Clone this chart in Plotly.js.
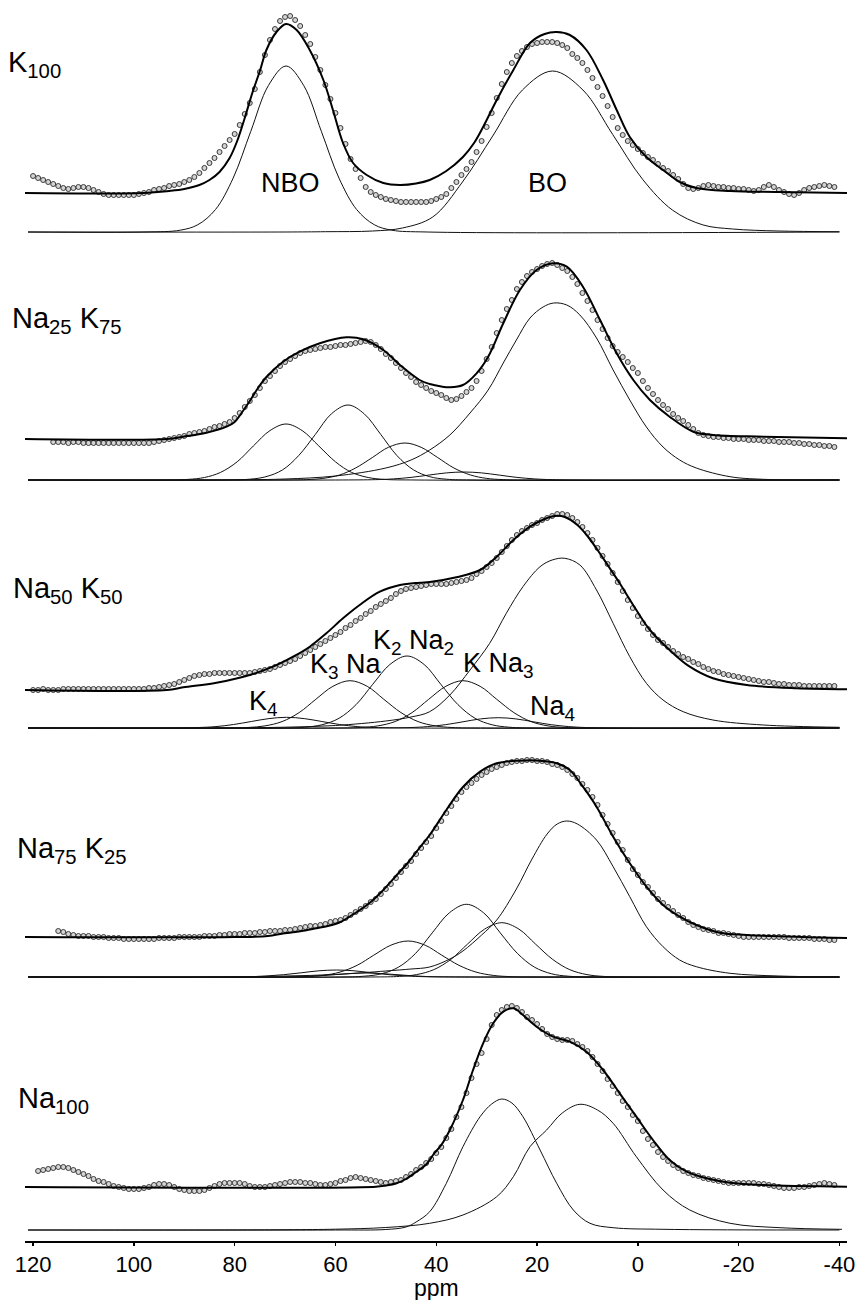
<!DOCTYPE html>
<html>
<head>
<meta charset="utf-8">
<script src="https://cdn.plot.ly/plotly-3.0.1.min.js"></script>
<style>html,body{margin:0;padding:0;background:#fff;}#chart{width:863px;height:1300px;}</style>
</head>
<body>
<div id="chart"></div>
<script>
// ---------------- DATA (intensities in arbitrary units above each trace's own baseline) ----------------
const panelNames = ["K<sub>100</sub>", "Na<sub>25</sub> K<sub>75</sub>", "Na<sub>50</sub> K<sub>50</sub>", "Na<sub>75</sub> K<sub>25</sub>", "Na<sub>100</sub>"];
const xTicks = [120, 100, 80, 60, 40, 20, 0, -20, -40];
const xTitle = "ppm";

// measured spectra (open circles), one value per ppm, starting at dataStart and stepping down by 1 ppm
const dataStart = [120, 116, 120, 115, 119];
const dataK100 = [17,15,13,11,9,7,5,4,5,6, 6,5,3,1,-1,-2,-2,-2,-2,-2, -2,-1,0,1,3,4,5,7,8,9, 11,13,16,20,25,30,35,41,47,53,
  59,68,79,90,104,121,138,153,164,172, 176,177,173,167,158,149,136,123,108,94, 80,65,49,34,24,15,6,1,-2,-4, -6,-7,-8,-9,-9,-9,-9,-9,-9,-8,
  -6,-4,-1,5,11,18,24,31,41,52, 66,80,95,109,121,130,137,142,146,149, 150,151,151,151,150,148,145,139,135,130, 123,115,106,97,87,76,65,58,52,48,
  44,40,36,33,29,25,22,18,14,9, 5,4,5,7,8,7,6,6,5,5, 4,4,3,2,3,6,8,6,3,1, -1,-2,0,3,5,6,7,8,7,6];
const dataNa25K75 = [-3,-3,-3,-4,-3,-3,-4,-4,-4,-4, -4,-4,-4,-4,-4,-4,-4,-4,-4,-4, -3,-2,-1,0,1,2,3,5,6,7, 8,10,12,13,15,17,21,26,32,38,
  44,51,58,63,68,73,77,80,83,86, 88,89,90,91,92,92,93,94,94,95, 96,97,98,97,94,90,85,81,76,71, 66,62,57,54,51,48,46,44,41,39,
  40,43,47,51,58,68,80,92,106,119, 130,139,150,157,163,167,170,173,175,176, 174,171,168,162,155,146,138,129,119,110, 101,93,87,82,77,71,66,58,51,45,
  39,34,30,25,21,18,14,10,6,4, 3,2,2,1,1,0,0,0,-1,-1, -1,-2,-2,-2,-3,-3,-3,-4,-4,-5, -5,-6,-6,-7,-7,-8];
const dataNa50K50 = [0,0,1,0,0,0,1,1,1,1, 1,1,1,1,1,1,1,1,1,1, 1,1,1,2,2,3,4,5,6,8, 10,12,14,15,16,16,17,17,17,17,
  17,17,17,17,18,19,20,21,23,25, 27,29,31,34,37,40,43,46,49,52, 55,58,62,65,69,72,76,79,83,86, 89,92,96,99,101,102,103,104,105,106,
  106,106,106,107,108,109,110,112,116,119, 123,127,132,138,144,150,155,159,162,165, 167,170,172,174,176,176,175,172,168,163, 157,150,142,134,126,117,108,99,90,82,
  74,67,61,55,50,47,43,39,36,33, 31,28,26,23,21,19,18,16,15,14, 13,12,11,10,9,8,8,7,6,6, 5,5,5,4,4,4,4,4,4,4];
const dataNa75K25 = [6,5,3,2,1,1,1,0,0,0, -1,-1,-1,-2,-2,-2,-2,-2,-2,-2, -1,-1,-1,-1,0,0,0,0,0,1, 1,1,2,2,3,3,3,4,4,4,
  5,5,6,6,6,7,7,8,9,10, 11,11,12,13,15,16,17,19,22,25, 28,31,35,38,43,48,53,59,65,71, 76,83,89,95,101,109,116,124,131,138,
  145,150,154,158,162,165,168,170,172,174, 175,176,176,177,177,176,176,175,173,172, 170,167,163,159,153,147,140,132,122,113, 104,95,87,77,68,62,55,50,44,38,
  34,30,26,22,19,15,12,10,8,7, 6,4,4,3,2,1,0,0,0,0, 0,0,0,0,0,-1,-1,-1,-1,-1, -2,-2,-2,-3,-3];
const dataNa100 = [16,17,18,19,20,20,19,17,15,13, 11,8,6,5,3,1,0,-1,-2,-2, -2,-1,0,2,3,3,2,0,-2,-3, -4,-4,-4,-3,-1,1,3,4,4,4,
  4,3,1,0,0,0,1,2,3,4, 5,5,5,4,4,3,2,2,3,4, 6,7,9,10,9,8,7,6,5,4, 5,6,7,10,13,17,20,24,28,34,
  40,49,58,70,80,94,109,123,134,148, 162,172,177,180,181,179,175,170,167,163, 158,153,150,148,147,147,146,143,140,136, 130,123,116,108,101,94,86,80,72,66,
  56,48,42,35,30,26,22,19,16,14, 12,11,9,8,7,6,5,4,4,4, 4,4,4,3,3,2,1,0,-1,-1, -1,0,0,1,2,3,4,3,2];

// fitted envelopes [ppm, intensity]
const fitK100 = [[121.6,0],[98,0],[93,2],[90,4],[87,8],[85,13],[83,21],[81,35],[79.5,52],[78,75],[76.5,100],[75,122],[73.7,143],[71.7,161],[69.8,169],[67.7,163],[65.1,143],[62.4,113],[60.5,83],[58.5,50],[56.5,30],[53.8,18],[50.5,10],[47.2,8],[44,9.5],[41.3,13],[38,22],[34.7,36],[32.5,50],[30.7,66],[28,93],[24.7,123],[21.4,150],[18.5,159],[16.1,161],[13.5,158],[10.2,143],[6.9,113],[4.2,83],[1.6,56],[-1.7,36],[-5,23],[-8.3,11],[-11.6,5],[-18.3,2],[-28,1],[-41.5,0]];
const fitNa25K75 = [[121.6,0],[93.5,0],[90.2,2.3],[85.6,6.3],[81.6,12.3],[80,17],[78.5,27],[77,38],[75.5,50],[73.7,62],[70.4,77.3],[67.1,87.3],[63.1,95.7],[57.8,101.7],[54.5,99.7],[50.5,89],[47.2,74],[43.3,59],[41.3,55],[39,52.5],[37.3,51.7],[34.7,54],[32,65.7],[29.7,82.3],[26.7,115.7],[23.4,149],[20.1,169],[16.8,175.7],[14.1,172.3],[10.9,152.3],[7.5,119],[4.2,85.7],[0.9,59],[-2.4,39],[-6.3,22.3],[-11,7.3],[-14.9,4],[-24.9,2.3],[-41.5,0.7]];
const fitNa50K50 = [[121.6,0],[93.5,0],[90.2,2.7],[83.6,7.3],[77,15],[72.4,23.3],[68.4,33.3],[65.1,43.3],[61.8,56.7],[58.5,71.7],[55.2,85],[51.2,98.3],[47.2,105],[43.3,107.3],[41.3,108],[36,112.7],[31.3,120],[28,133.3],[24.7,150],[21.4,163.3],[18.5,171],[16.5,174],[14.5,173],[12,165],[10,154],[8,140],[6,125],[3.6,106.7],[0.3,80],[-2.4,60],[-6.3,40],[-10.3,23.3],[-14.9,11.7],[-21.6,5],[-31.5,1.7],[-41.5,0.7]];
const fitNa75K25 = [[121.6,0],[80,0],[73.4,1],[70.4,3.5],[66,6.5],[63.8,8.7],[61.5,11],[59,15],[57,21],[55,27.5],[53,35],[50.5,47],[48,61],[45.5,75],[43.5,88],[41.3,102],[38,127],[34.7,150],[31.3,165.3],[28,173.7],[23.5,176.3],[19.4,176.3],[16.1,173.7],[13.5,167],[10.9,150.3],[8.2,130.3],[4.9,100.3],[1.6,73.7],[-1.7,50.3],[-5,32],[-8.3,20.3],[-11.6,12],[-16.3,4.3],[-21.6,2],[-41.5,-1]];
const fitNa100 = [[121.6,0],[52,0.3],[50,1.5],[48,3.5],[46,8],[44,15],[42,22.5],[40.5,33],[39,42],[37.3,57],[34.7,87],[32.7,117],[30.7,143.7],[28.7,163.7],[26.7,175.3],[24.7,178.7],[22.8,172],[20.1,160.3],[16.8,150.3],[13.5,145.3],[10.2,135.3],[6.9,117],[3.6,93.7],[0.3,70.3],[-3,47],[-6.3,27],[-9.7,15.3],[-13.6,8.7],[-18.3,4.3],[-24.9,2],[-41.5,0.3]];

// component lines [ppm, intensity]
const compK100_NBO = [[121,0],[97.8,0],[90.8,1.8],[87.3,7.3],[83.8,22.5],[80.3,53.9],[76.8,100.7],[73.3,146.5],[69.8,166],[66.3,146.5],[62.8,100.7],[59.3,53.9],[55.8,22.5],[52.3,7.3],[48.8,1.8],[41.8,0],[-40,0]];
const compK100_BO = [[121,0],[70,0],[62,0.3],[52.6,1],[46.7,4],[40.7,15],[34.8,50],[28.8,96],[22.9,142],[16.9,161],[10.9,142],[5,97.6],[-1,52.3],[-6.9,21.8],[-12.9,7.1],[-18.8,3],[-28,1],[-40,0.3]];

const compNa25_1 = [[121,0],[95,0],[89.3,0.6],[86,2.5],[82.8,7.6],[79.5,18.2],[76.3,34],[73,49.4],[69.8,56],[66.6,49.4],[63.3,34],[60,18.2],[56.8,7.6],[53.5,2.5],[50.3,0.6],[44,0],[-40,0]];
const compNa25_2 = [[121,0],[83,0],[77,0.8],[73.8,3.3],[70.5,10.1],[67.3,24.4],[64,45.5],[60.8,66.2],[57.5,75],[54.3,66.2],[51,45.5],[47.8,24.4],[44.5,10.1],[41.3,3.3],[38,0.8],[32,0],[-40,0]];
const compNa25_3 = [[121,0],[72,0],[65.7,0.4],[62.5,1.6],[59.2,5],[56,12],[52.7,22.4],[49.5,32.7],[46.2,37],[43,32.7],[39.7,22.4],[36.5,12],[33.2,5],[30,1.6],[26.7,0.4],[20,0],[-40,0]];
const compNa25_4 = [[121,0],[60,0],[52,0.35],[48.5,1.1],[45,2.6],[41.5,4.9],[38,7.1],[34.5,8],[31,7.1],[27.5,4.9],[24,2.6],[20.5,1.1],[17,0.35],[10,0],[-40,0]];
const compNa25_BO = [[121,0],[80,0.2],[70,1],[60,4],[50,12],[45,20],[41.3,30],[37.3,45],[33.3,67],[29.7,90],[26.7,117],[24.1,140],[21.4,162],[18.8,173],[16.7,177],[14.1,175],[11.5,165],[8.2,142],[4.9,110],[1.6,80],[-1.7,53],[-5,33],[-8.3,20],[-11.6,12],[-18.3,3.3],[-24.9,0.7],[-40,0]];

const compNa50_K4 = [[121,0],[95,0],[87.2,0.5],[83.7,1.4],[80.2,3.5],[76.7,6.5],[73.2,9.4],[69.7,10.7],[66.2,9.4],[62.7,6.5],[59.2,3.5],[55.7,1.4],[52.2,0.5],[45,0],[-40,0]];
const compNa50_K3Na = [[121,0],[82,0],[77.4,0.5],[74,2.1],[70.6,6.4],[67.2,15.4],[63.9,28.7],[60.5,41.7],[57.1,47.3],[53.7,41.7],[50.4,28.7],[47,15.4],[43.6,6.4],[40.2,2.1],[36.9,0.5],[30,0],[-40,0]];
const compNa50_K2Na2 = [[121,0],[71,0],[66.1,0.8],[62.7,3.2],[59.3,9.7],[55.9,23.4],[52.6,43.7],[49.2,63.5],[45.8,72],[42.4,63.5],[39.1,43.7],[35.7,23.4],[32.3,9.7],[28.9,3.2],[25.6,0.8],[19,0],[-40,0]];
const compNa50_KNa3 = [[121,0],[60,0],[55,0.5],[51.6,2.1],[48.2,6.4],[44.8,15.4],[41.5,28.7],[38.1,41.7],[34.7,47.3],[31.3,41.7],[28,28.7],[24.6,15.4],[21.2,6.4],[17.8,2.1],[14.5,0.5],[8,0],[-40,0]];
const compNa50_Na4 = [[121,0],[53,0],[45.2,0.45],[41.7,1.4],[38.2,3.3],[34.7,6.2],[31.2,9.1],[27.7,10.3],[24.2,9.1],[20.7,6.2],[17.2,3.3],[13.7,1.4],[10.2,0.45],[3,0],[-40,0]];
const compNa50_BO = [[121,0],[80,0.3],[70,0.8],[60,2.5],[50,7],[45,11],[41.3,16.3],[37.3,33],[33.3,58],[29.4,84.7],[26.1,114.7],[22.8,141.3],[19.4,161.3],[17,168],[14.5,169.7],[11.5,163],[8.2,138],[4.9,104.7],[1.6,71.3],[-1.7,44.7],[-5,28],[-9,16.3],[-14.9,8],[-24.9,3],[-40,0.7]];

const compNa75_1 = [[121,0],[85,0],[77.3,0.3],[73.8,1],[70.3,2.3],[66.8,4.2],[63.3,6.2],[59.8,7],[56.3,6.2],[52.8,4.2],[49.3,2.3],[45.8,1],[42.3,0.3],[35,0],[-40,0]];
const compNa75_2 = [[121,0],[76,0],[69,0.2],[66,0.5],[63,1.3],[60,2.4],[57,3.5],[54,4],[51,3.5],[48,2.4],[45,1.3],[42,0.5],[39,0.2],[32,0],[-40,0]];
const compNa75_3 = [[121,0],[71,0],[65.9,0.4],[62.5,1.6],[59.1,4.9],[55.7,11.7],[52.4,21.8],[49,31.8],[45.6,36],[42.2,31.8],[38.9,21.8],[35.5,11.7],[32.1,4.9],[28.7,1.6],[25.4,0.4],[18,0],[-40,0]];
const compNa75_4 = [[121,0],[60,0],[54.3,0.8],[50.9,3.2],[47.5,9.8],[44.1,23.6],[40.8,44.1],[37.4,64.2],[34,72.7],[30.6,64.2],[27.3,44.1],[23.9,23.6],[20.5,9.8],[17.1,3.2],[13.8,0.8],[7,0],[-40,0]];
const compNa75_5 = [[121,0],[53,0],[47.3,0.6],[43.9,2.4],[40.5,7.3],[37.1,17.6],[33.8,32.9],[30.4,47.9],[27,54.3],[23.6,47.9],[20.3,32.9],[16.9,17.6],[13.5,7.3],[10.1,2.4],[6.8,0.6],[0,0],[-40,0]];
const compNa75_BO = [[121,0],[80,0.3],[70,1],[60,2.5],[50,6],[45,8],[41.3,10],[37.3,18],[34.7,26],[31,42],[28,57],[24.1,88],[21,118],[18,143],[16,153],[14.1,156],[12,153],[8.2,137],[4.9,110.3],[1.6,80.3],[-1.7,50.3],[-5,30.3],[-8.3,17],[-11.6,10.3],[-18.3,3.7],[-28,1],[-40,0]];

const compNa100_1 = [[121,0],[60,0],[50,0.5],[46,3],[44,8],[41.3,18.3],[38,46.7],[34.7,83.3],[31.3,113.3],[29,126],[27,131],[25,127],[22.8,113.3],[19.4,80],[16.1,46.7],[12.8,20],[9.5,6.7],[4.9,2.3],[-5,0.7],[-40,0]];
const compNa100_2 = [[121,0],[70,0.3],[60,0.8],[50,2.5],[41.3,6.7],[34.7,15],[28,33.3],[24.7,53.3],[21.4,83.3],[18.1,100],[15,117],[11.5,125.7],[8,120],[4.9,106.7],[0.3,73.3],[-5,40],[-10.3,20],[-18.3,6.7],[-28.2,2.3],[-40.5,0.7]];

// ---------------- stacking of the five spectra ----------------
const fitOffset  = [1048, 802, 551, 304, 54];
const compOffset = [1009, 761, 513, 264, 11];

const panels = [
  {data: dataK100, fit: fitK100, comps: [compK100_NBO, compK100_BO]},
  {data: dataNa25K75, fit: fitNa25K75, comps: [compNa25_1, compNa25_2, compNa25_3, compNa25_4, compNa25_BO]},
  {data: dataNa50K50, fit: fitNa50K50, comps: [compNa50_K4, compNa50_K3Na, compNa50_K2Na2, compNa50_KNa3, compNa50_Na4, compNa50_BO]},
  {data: dataNa75K25, fit: fitNa75K25, comps: [compNa75_1, compNa75_2, compNa75_3, compNa75_4, compNa75_5, compNa75_BO]},
  {data: dataNa100, fit: fitNa100, comps: [compNa100_1, compNa100_2]}
];

const traces = [];
panels.forEach((p, i) => {
  p.comps.forEach(c => {
    traces.push({type: 'scatter', mode: 'lines', x: c.map(d => d[0]), y: c.map(d => d[1] + compOffset[i]),
      line: {color: '#111', width: 1, shape: 'spline', smoothing: 1}, hoverinfo: 'skip'});
  });
  const xs = p.data.map((v, k) => dataStart[i] - k);
  traces.push({type: 'scatter', mode: 'markers', x: xs, y: p.data.map(v => v + fitOffset[i]),
    marker: {symbol: 'circle', size: 5, color: '#d4d4d4', line: {color: '#3a3a3a', width: 1}}, cliponaxis: false, hoverinfo: 'skip'});
  traces.push({type: 'scatter', mode: 'lines', x: p.fit.map(d => d[0]), y: p.fit.map(d => d[1] + fitOffset[i]),
    line: {color: '#000', width: 2, shape: 'spline', smoothing: 1}, hoverinfo: 'skip'});
});

// ---------------- labels ----------------
const FONT = 'Liberation Sans, Arial, Helvetica, sans-serif';
const W0 = 25, WP = 822, HP = 1241;
const px2x = px => (px - W0) / WP;
const py2y = py => (HP - py) / HP;
const ann = [];
const panelLabelPos = [[6, 64], [10, 320], [11, 590], [15, 850], [16, 1100]];
panelNames.forEach((t, i) => ann.push({xref: 'paper', yref: 'paper', x: px2x(panelLabelPos[i][0]), y: py2y(panelLabelPos[i][1]),
  xanchor: 'left', yanchor: 'middle', text: t, showarrow: false, font: {family: FONT, size: 29, color: '#000'}}));
const innerLabels = [["NBO", 290, 183], ["BO", 547, 183], ["K<sub>4</sub>", 263, 703], ["K<sub>3</sub> Na", 346, 666],
  ["K<sub>2</sub> Na<sub>2</sub>", 413, 642], ["K Na<sub>3</sub>", 498, 665], ["Na<sub>4</sub>", 552, 708]];
innerLabels.forEach(l => ann.push({xref: 'paper', yref: 'paper', x: px2x(l[1]), y: py2y(l[2]), xanchor: 'center', yanchor: 'middle',
  text: l[0], showarrow: false, font: {family: FONT, size: 27, color: '#000'}}));
// x-axis title, placed under the tick labels
ann.push({xref: 'paper', yref: 'paper', x: px2x(436), y: py2y(1288), xanchor: 'center', yanchor: 'middle',
  text: xTitle, showarrow: false, borderpad: 0, font: {family: FONT, size: 23, color: '#000'}});

const layout = {
  width: 863, height: 1300,
  margin: {l: W0, r: 16, t: 0, b: 59, pad: 0},
  paper_bgcolor: '#fff', plot_bgcolor: '#fff',
  showlegend: false, hovermode: false,
  font: {family: FONT, color: '#000'},
  xaxis: {range: [121.6, -41.5], tickvals: xTicks, ticktext: xTicks.map(String), ticks: 'outside', ticklen: 3, tickwidth: 1.5,
    tickcolor: '#000', showline: true, linecolor: '#000', linewidth: 1.5, showgrid: false, zeroline: false,
    tickfont: {family: FONT, size: 22, color: '#000'}},
  yaxis: {range: [0, HP], visible: false, showgrid: false, zeroline: false, fixedrange: true},
  annotations: ann
};
Plotly.newPlot('chart', traces, layout, {staticPlot: true, displayModeBar: false});
</script>
</body>
</html>
